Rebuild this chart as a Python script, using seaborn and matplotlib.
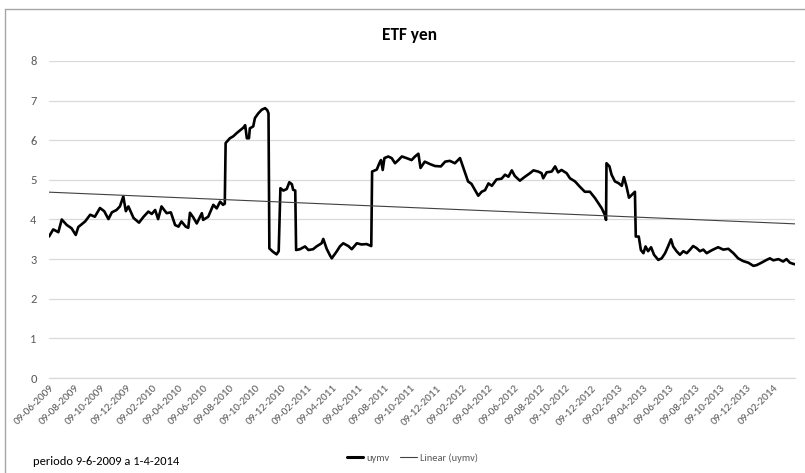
import numpy as np
import pandas as pd
import matplotlib
matplotlib.use("Agg")
import matplotlib.pyplot as plt
import matplotlib.dates as mdates
from matplotlib.lines import Line2D
from matplotlib import font_manager
import seaborn as sns

# uymv series, period 9-6-2009 to 1-4-2014
dates = [
    "2009-06-09", "2009-06-19", "2009-07-01", "2009-07-09", "2009-07-21", "2009-08-01",
    "2009-08-11", "2009-08-17", "2009-09-02", "2009-09-14", "2009-09-25", "2009-10-07",
    "2009-10-17", "2009-10-27", "2009-11-04", "2009-11-15", "2009-11-23", "2009-12-01",
    "2009-12-07", "2009-12-13", "2009-12-25", "2010-01-07", "2010-01-17", "2010-01-29",
    "2010-02-06", "2010-02-14", "2010-02-21", "2010-03-01", "2010-03-13", "2010-03-23",
    "2010-04-02", "2010-04-10", "2010-04-17", "2010-04-27", "2010-05-03", "2010-05-07",
    "2010-05-15", "2010-05-23", "2010-06-04", "2010-06-07", "2010-06-19", "2010-07-01",
    "2010-07-09", "2010-07-17", "2010-07-24", "2010-07-28", "2010-07-30", "2010-08-09",
    "2010-08-17", "2010-08-25", "2010-09-02", "2010-09-10", "2010-09-14", "2010-09-18",
    "2010-09-23", "2010-09-25", "2010-10-03", "2010-10-07", "2010-10-15", "2010-10-23",
    "2010-10-31", "2010-11-05", "2010-11-08", "2010-11-10", "2010-11-18", "2010-11-27",
    "2010-12-02", "2010-12-06", "2010-12-13", "2010-12-21", "2010-12-27", "2011-01-02",
    "2011-01-05", "2011-01-10", "2011-01-12", "2011-01-21", "2011-02-02", "2011-02-10",
    "2011-02-21", "2011-03-01", "2011-03-13", "2011-03-17", "2011-03-25", "2011-04-02",
    "2011-04-06", "2011-04-18", "2011-04-25", "2011-05-03", "2011-05-15", "2011-05-23",
    "2011-06-04", "2011-06-15", "2011-06-27", "2011-07-08", "2011-07-10", "2011-07-21",
    "2011-07-27", "2011-07-31", "2011-08-04", "2011-08-08", "2011-08-17", "2011-08-25",
    "2011-09-02", "2011-09-10", "2011-09-18", "2011-09-29", "2011-10-11", "2011-10-19",
    "2011-10-27", "2011-11-01", "2011-11-11", "2011-11-23", "2011-12-05", "2011-12-19",
    "2011-12-29", "2012-01-09", "2012-01-21", "2012-02-02", "2012-02-10", "2012-02-21",
    "2012-02-29", "2012-03-08", "2012-03-16", "2012-03-24", "2012-04-01", "2012-04-09",
    "2012-04-17", "2012-04-28", "2012-05-10", "2012-05-18", "2012-05-26", "2012-06-03",
    "2012-06-10", "2012-06-22", "2012-07-04", "2012-07-16", "2012-07-24", "2012-08-04",
    "2012-08-12", "2012-08-16", "2012-08-24", "2012-09-05", "2012-09-13", "2012-09-20",
    "2012-09-28", "2012-10-10", "2012-10-18", "2012-10-30", "2012-11-10", "2012-11-22",
    "2012-12-04", "2012-12-16", "2012-12-24", "2013-01-01", "2013-01-08", "2013-01-11",
    "2013-01-12", "2013-01-19", "2013-01-24", "2013-02-01", "2013-02-09", "2013-02-17",
    "2013-02-22", "2013-02-28", "2013-03-06", "2013-03-16", "2013-03-20", "2013-03-22",
    "2013-03-29", "2013-04-03", "2013-04-09", "2013-04-14", "2013-04-20", "2013-04-27",
    "2013-05-04", "2013-05-14", "2013-05-22", "2013-05-30", "2013-06-06", "2013-06-13",
    "2013-06-18", "2013-06-26", "2013-07-04", "2013-07-12", "2013-07-20", "2013-07-28",
    "2013-08-04", "2013-08-12", "2013-08-20", "2013-08-28", "2013-09-05", "2013-09-13",
    "2013-09-20", "2013-10-02", "2013-10-14", "2013-10-26", "2013-11-07", "2013-11-18",
    "2013-11-30", "2013-12-12", "2013-12-24", "2014-01-01", "2014-01-12", "2014-01-24",
    "2014-02-01", "2014-02-09", "2014-02-21", "2014-03-04", "2014-03-12", "2014-03-20",
    "2014-03-28", "2014-04-01",
]
uymv = [
    3.57, 3.75, 3.68, 4.00, 3.86, 3.78,
    3.61, 3.81, 3.95, 4.12, 4.07, 4.29,
    4.21, 4.01, 4.18, 4.24, 4.33, 4.58,
    4.21, 4.33, 4.04, 3.92, 4.06, 4.20,
    4.14, 4.24, 4.01, 4.33, 4.16, 4.18,
    3.86, 3.82, 3.95, 3.82, 3.79, 4.17,
    4.05, 3.90, 4.16, 3.99, 4.07, 4.37,
    4.28, 4.45, 4.37, 4.40, 5.93, 6.05,
    6.10, 6.18, 6.25, 6.32, 6.38, 6.05,
    6.05, 6.30, 6.35, 6.56, 6.68, 6.77,
    6.81, 6.76, 6.68, 3.27, 3.19, 3.12,
    3.20, 4.79, 4.73, 4.77, 4.94, 4.89,
    4.75, 4.73, 3.23, 3.25, 3.32, 3.23,
    3.25, 3.32, 3.40, 3.51, 3.26, 3.09,
    3.02, 3.20, 3.32, 3.40, 3.33, 3.25,
    3.40, 3.37, 3.38, 3.33, 5.21, 5.26,
    5.42, 5.50, 5.25, 5.55, 5.59, 5.55,
    5.42, 5.50, 5.59, 5.55, 5.50, 5.59,
    5.66, 5.30, 5.46, 5.40, 5.35, 5.34,
    5.46, 5.48, 5.42, 5.55, 5.30, 4.96,
    4.90, 4.75, 4.60, 4.70, 4.74, 4.91,
    4.85, 5.01, 5.03, 5.13, 5.08, 5.24,
    5.10, 4.98, 5.08, 5.17, 5.24, 5.21,
    5.17, 5.04, 5.19, 5.21, 5.34, 5.19,
    5.25, 5.17, 5.04, 4.96, 4.83, 4.70,
    4.70, 4.54, 4.41, 4.28, 4.12, 3.99,
    5.42, 5.34, 5.13, 4.96, 4.92, 4.85,
    5.07, 4.84, 4.55, 4.66, 4.70, 3.57,
    3.57, 3.23, 3.15, 3.32, 3.20, 3.30,
    3.11, 2.98, 3.02, 3.15, 3.32, 3.50,
    3.32, 3.20, 3.11, 3.20, 3.15, 3.24,
    3.33, 3.28, 3.20, 3.24, 3.15, 3.20,
    3.24, 3.30, 3.24, 3.26, 3.15, 3.02,
    2.95, 2.91, 2.83, 2.85, 2.91, 2.98,
    3.02, 2.97, 3.00, 2.94, 3.00, 2.91,
    2.88, 2.87,
]
# linear trend of uymv at the first and last date
trend_dates = ["2009-06-09", "2014-04-01"]
trend_values = [4.69, 3.89]

y_ticks = [0, 1, 2, 3, 4, 5, 6, 7, 8]
x_ticks = pd.date_range("2009-06-09", "2014-02-09", freq=pd.DateOffset(months=2))

df = pd.DataFrame({"fecha": pd.to_datetime(dates), "uymv": uymv})
trend = pd.DataFrame({"fecha": pd.to_datetime(trend_dates), "uymv": trend_values})

sns.set_style("white")
available = {f.name for f in font_manager.fontManager.ttflist}
base_font = next((f for f in ["Carlito", "Liberation Sans Narrow", "Liberation Sans"]
                  if f in available), "DejaVu Sans")
plt.rcParams["font.family"] = [base_font, "DejaVu Sans"]

fig = plt.figure(figsize=(8.05, 4.73), dpi=100)
ax = fig.add_axes([49 / 805, 95 / 473, 746 / 805, 317 / 473])

sns.lineplot(data=df, x="fecha", y="uymv", ax=ax, color="black",
             linewidth=1.9, legend=False)
sns.lineplot(data=trend, x="fecha", y="uymv", ax=ax, color="#404040",
             linewidth=0.8, legend=False)

ax.set_ylim(0, 8)
ax.set_xlim(df["fecha"].iloc[0], df["fecha"].iloc[-1])
ax.set_yticks(y_ticks)
ax.set_xticks(x_ticks)
ax.set_xticklabels([d.strftime("%d-%m-%Y") for d in x_ticks], rotation=45,
                   ha="right", rotation_mode="anchor", fontsize=8, color="#595959")
ax.tick_params(axis="y", labelsize=9, labelcolor="#595959", length=0, pad=9)
ax.tick_params(axis="x", length=0, pad=4)
ax.set_xlabel("")
ax.set_ylabel("")
ax.grid(axis="y", color="#d9d9d9", linewidth=0.9)
ax.grid(axis="x", visible=False)
for s in ["top", "right", "left"]:
    ax.spines[s].set_visible(False)
ax.spines["bottom"].set_color("#d9d9d9")
ax.spines["bottom"].set_linewidth(0.9)

fig.text(410 / 805, 1 - 35 / 473, "ETF yen", ha="center", va="center",
         fontsize=12.5, fontweight="bold", color="black")
fig.text(33 / 805, 1 - 461 / 473, "periodo 9-6-2009 a 1-4-2014", ha="left",
         va="center", fontsize=9, color="black")

handles = [Line2D([], [], color="black", linewidth=2.2),
           Line2D([], [], color="#404040", linewidth=0.8)]
fig.legend(handles, ["uymv", "Linear (uymv)"], loc="center",
           bbox_to_anchor=(412 / 805, 1 - 458 / 473), ncol=2, frameon=False,
           fontsize=7.5, handlelength=1.6, handletextpad=0.3, columnspacing=1.0,
           labelcolor="#595959")

# chart frame
frame = dict(color="#a6a6a6", linewidth=1.0)
fig.add_artist(Line2D([5 / 805, 5 / 805], [0, 1 - 9 / 473], transform=fig.transFigure, **frame))
fig.add_artist(Line2D([5 / 805, 1], [1 - 9 / 473, 1 - 9 / 473], transform=fig.transFigure, **frame))

fig.savefig("out.png", dpi=100)
